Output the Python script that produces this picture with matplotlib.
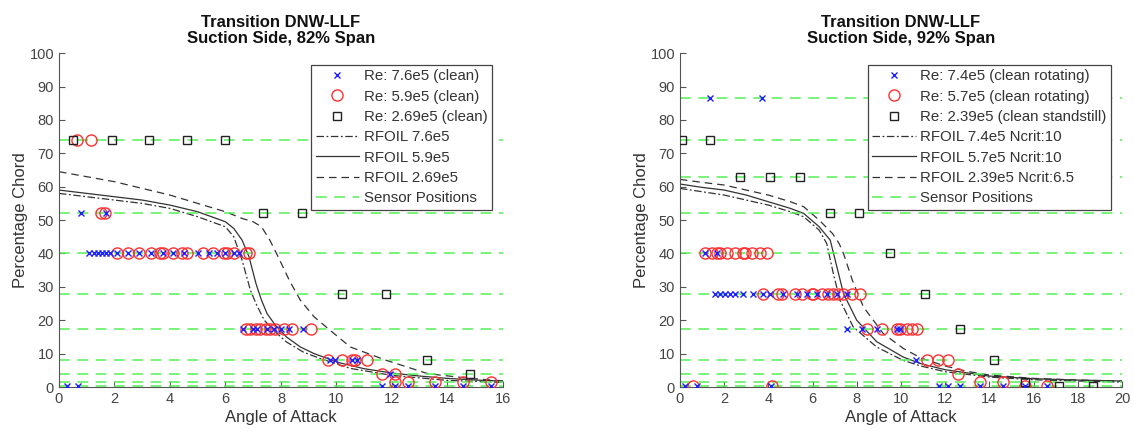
import numpy as np
import matplotlib
matplotlib.use('Agg')
import matplotlib.pyplot as plt

plt.rcParams['font.family'] = ['Liberation Sans', 'DejaVu Sans']

# ---------- left panel: 82% span ----------
sensors_82 = [74, 52, 40, 28, 17.5, 8, 4, 1.5, 0.3]

# Re 7.6e5 (blue x)
hi_x_82 = [0.3, 0.7, 0.79, 1.68,
           1.1, 1.25, 1.4, 1.55, 1.7, 1.85, 2.1, 2.5, 2.9, 3.3, 3.75, 4.1, 4.5, 5.0, 5.4, 5.7, 6.0, 6.3, 6.5,
           6.65, 7.0, 7.15, 7.5, 7.75, 8.0, 8.3, 8.8,
           9.77, 9.95, 10.55, 10.73, 11.93,
           11.63, 12.1, 12.59, 13.55, 14.57, 15.56]
hi_y_82 = [0.3, 0.3, 52, 52,
           40, 40, 40, 40, 40, 40, 40, 40, 40, 40, 40, 40, 40, 40, 40, 40, 40, 40, 40,
           17.5, 17.5, 17.5, 17.5, 17.5, 17.5, 17.5, 17.5,
           8, 8, 8, 8, 4,
           0.3, 0.3, 0.3, 0.3, 0.3, 0.3]

# Re 5.9e5 (red o)
mid_x_82 = [0.64, 1.15, 1.5, 1.66,
            2.1, 2.5, 2.9, 3.3, 3.65, 3.75, 4.1, 4.45, 4.6, 5.2, 5.55, 5.95, 6.05, 6.3, 6.75, 6.85,
            6.75, 6.9, 7.1, 7.25, 7.45, 7.6, 7.8, 8.1, 8.4, 9.1,
            9.7, 10.19, 10.55, 10.67, 11.09,
            11.63, 12.1,
            12.1, 12.59, 13.55, 14.57, 15.56]
mid_y_82 = [74, 74, 52, 52,
            40, 40, 40, 40, 40, 40, 40, 40, 40, 40, 40, 40, 40, 40, 40, 40,
            17.5, 17.5, 17.5, 17.5, 17.5, 17.5, 17.5, 17.5, 17.5, 17.5,
            8, 8, 8, 8, 8,
            4, 4,
            1.5, 1.5, 1.5, 1.5, 1.5]

# Re 2.69e5 (black squares)
lo_x_82 = [0.52, 1.9, 3.25, 4.6, 5.98, 7.34, 8.76, 10.2, 11.78, 13.25, 14.8]
lo_y_82 = [74, 74, 74, 74, 74, 52, 52, 28, 28, 8, 4]

# RFOIL curves
rf_hi_x_82 = [0, 1, 2, 3, 4, 5, 5.5, 6, 6.3, 6.6, 6.9, 7.1, 7.4, 7.8, 8.2, 8.8, 9.4, 10.5, 12, 14, 16]
rf_hi_y_82 = [58, 57, 56, 55, 53.5, 51, 49.5, 48, 45, 38, 29, 25, 20, 16.5, 13.5, 10.5, 8.6, 5.6, 3.5, 2, 1.4]
rf_mid_x_82 = [0, 1, 2, 3, 4, 5, 5.5, 6, 6.3, 6.6, 6.85, 7.1, 7.3, 7.5, 7.8, 8.2, 8.7, 9.2, 10.1, 11, 12, 13, 14, 15, 16]
rf_mid_y_82 = [59, 58, 57, 56, 54.5, 52.5, 51, 49.5, 47.5, 44, 39, 31, 26, 22, 18.5, 15, 12, 10, 7.3, 5.5, 4.2, 3.3, 2.6, 2.1, 1.8]
rf_lo_x_82 = [0, 1, 2, 3, 4, 5, 6, 6.6, 7.0, 7.3, 7.6, 7.9, 8.3, 8.7, 9.2, 9.7, 10.5, 11.8, 13.3, 14.7, 16]
rf_lo_y_82 = [64.5, 63, 61.5, 59.5, 57.5, 55, 52.5, 50.5, 49.5, 48, 44, 39, 32, 26, 21, 17.5, 12, 8, 4, 2.7, 1.8]

# ---------- right panel: 92% span ----------
sensors_92 = [86.5, 74, 63, 52, 40, 28, 17.5, 8, 4, 1.5, 0.3]

hi_x_92 = [1.36, 3.7, 1.13, 1.66,
           1.58, 1.81, 2.04, 2.26, 2.49, 2.87, 3.32, 3.77, 4.07, 4.67, 5.28, 5.73, 6.18, 6.64, 7.09, 7.54,
           7.54, 8.22, 8.9, 9.8, 9.95,
           10.7,
           0.23, 0.75, 4.1, 11.7, 12.14, 12.67, 13.57, 14.63, 15.6, 16.6]
hi_y_92 = [86.5, 86.5, 40, 40,
           28, 28, 28, 28, 28, 28, 28, 28, 28, 28, 28, 28, 28, 28, 28, 28,
           17.5, 17.5, 17.5, 17.5, 17.5,
           8,
           0.3, 0.3, 0.3, 0.3, 0.3, 0.3, 0.3, 0.3, 0.3, 0.3]

mid_x_92 = [1.13, 1.43, 1.66, 1.81, 2.11, 2.49, 2.86, 2.94, 3.24, 3.62, 3.92,
            3.77, 4.45, 4.6, 5.2, 5.51, 5.96, 6.03, 6.41, 6.71, 6.94, 7.16, 7.39, 7.77, 8.14,
            8.45, 9.12, 9.8, 9.95, 10.26, 10.5, 10.71,
            11.16, 11.69, 12.14,
            12.6,
            13.57, 14.63,
            0.6, 4.15, 15.6, 16.6]
mid_y_92 = [40, 40, 40, 40, 40, 40, 40, 40, 40, 40, 40,
            28, 28, 28, 28, 28, 28, 28, 28, 28, 28, 28, 28, 28, 28,
            17.5, 17.5, 17.5, 17.5, 17.5, 17.5, 17.5,
            8, 8, 8,
            4,
            1.5, 1.5,
            0.3, 0.3, 0.3, 0.3]

lo_x_92 = [0.08, 1.36, 2.71, 4.07, 5.43, 6.79, 8.1, 9.5, 11.08, 12.65, 14.2, 15.6, 17.15, 18.7]
lo_y_92 = [74, 74, 63, 63, 63, 52, 52, 40, 28, 17.5, 8, 1.5, 0.3, 0.3]

rf_hi_x_92 = [0, 1, 2, 3, 4, 5, 5.6, 6.3, 6.64, 6.94, 7.24, 7.84, 8.9, 10.1, 10.9, 12, 14, 16, 18, 20]
rf_hi_y_92 = [59.5, 58.5, 57.5, 56, 54.5, 52.5, 51, 47, 43, 34, 26, 18, 12, 8, 6.3, 4.6, 3, 2.2, 1.8, 1.5]
rf_mid_x_92 = [0, 1, 2, 3, 4, 5, 5.6, 6.3, 6.8, 7.1, 7.4, 8.0, 8.9, 10.1, 10.9, 12, 14, 16, 18, 20]
rf_mid_y_92 = [60.8, 59.8, 59, 57.5, 55.5, 53.5, 52, 48, 44, 36, 28, 20, 13.6, 9, 7, 5.2, 3.3, 2.5, 2.1, 1.8]
rf_lo_x_92 = [0, 1, 2, 3, 4, 5, 5.6, 6.3, 6.9, 7.2, 7.4, 7.8, 8.3, 9.2, 10.1, 10.9, 12, 13, 14, 16, 18, 20]
rf_lo_y_92 = [62.2, 61.3, 60.5, 59, 57.5, 55.5, 54, 50, 46, 43, 40, 32, 24, 16, 11.6, 8.7, 6.3, 4.7, 3.6, 2.6, 2.1, 1.8]

labels_82 = ['Re: 7.6e5 (clean)', 'Re: 5.9e5 (clean)', 'Re: 2.69e5 (clean)',
             'RFOIL 7.6e5', 'RFOIL 5.9e5', 'RFOIL 2.69e5', 'Sensor Positions']
labels_92 = ['Re: 7.4e5 (clean rotating)', 'Re: 5.7e5 (clean rotating)', 'Re: 2.39e5 (clean standstill)',
             'RFOIL 7.4e5 Ncrit:10', 'RFOIL 5.7e5 Ncrit:10', 'RFOIL 2.39e5 Ncrit:6.5', 'Sensor Positions']

green = '#55f055'
line_col = '#333333'
axis_col = '#555555'


def draw_panel(ax, sensors, hi, mid, lo, rf_hi, rf_mid, rf_lo, labels, xmax, title):
    h1, = ax.plot(hi[0], hi[1], 'x', color='#1f1fff', ms=5, mew=1.0, zorder=4)
    h2, = ax.plot(mid[0], mid[1], 'o', mfc='none', mec='#ff3030', ms=8, mew=1.0, zorder=3)
    h3, = ax.plot(lo[0], lo[1], 's', mfc='none', mec='#222222', ms=6, mew=1.0, zorder=3)
    h4, = ax.plot(rf_hi[0], rf_hi[1], color=line_col, lw=0.9, dashes=[6, 2, 1.5, 2])
    h5, = ax.plot(rf_mid[0], rf_mid[1], color=line_col, lw=0.9)
    h6, = ax.plot(rf_lo[0], rf_lo[1], color=line_col, lw=0.9, dashes=[6, 4])
    h7 = None
    for s in sensors:
        h, = ax.plot([0, xmax], [s, s], color=green, lw=1.1, dashes=[7, 5], zorder=2)
        if h7 is None:
            h7 = h
    ax.set_xlim(0, xmax)
    ax.set_ylim(0, 100)
    ax.set_xticks(np.arange(0, xmax + 1, 2))
    ax.set_yticks(np.arange(0, 101, 10))
    for side in ['top', 'right']:
        ax.spines[side].set_visible(False)
    for side in ['left', 'bottom']:
        ax.spines[side].set_color(axis_col)
    ax.tick_params(direction='in', length=4, colors=axis_col, labelsize=10.5,
                   labelcolor='#444444')
    ax.set_xlabel('Angle of Attack', fontsize=12, color='#333333', labelpad=3)
    ax.set_ylabel('Percentage Chord', fontsize=12, color='#333333', labelpad=1)
    ax.set_title(title, fontsize=12, fontweight='bold', color='#111111', pad=7, linespacing=1.15)
    leg = ax.legend([h1, h2, h3, h4, h5, h6, h7], labels, loc='upper right',
                    bbox_to_anchor=(0.975, 0.965), fontsize=10.8, handlelength=2.9,
                    handletextpad=0.3, borderpad=0.3, labelspacing=0.42, fancybox=False,
                    framealpha=1, edgecolor='#444444', borderaxespad=0)
    leg.get_frame().set_linewidth(0.9)
    for t in leg.get_texts():
        t.set_color('#333333')


fig = plt.figure(figsize=(11.34, 4.32), dpi=100)
ax1 = fig.add_axes([0.052, 0.104, 0.3915, 0.773])
ax2 = fig.add_axes([0.5996, 0.104, 0.3898, 0.773])

draw_panel(ax1, sensors_82, (hi_x_82, hi_y_82), (mid_x_82, mid_y_82), (lo_x_82, lo_y_82),
           (rf_hi_x_82, rf_hi_y_82), (rf_mid_x_82, rf_mid_y_82), (rf_lo_x_82, rf_lo_y_82),
           labels_82, 16, 'Transition DNW-LLF\nSuction Side, 82% Span')
draw_panel(ax2, sensors_92, (hi_x_92, hi_y_92), (mid_x_92, mid_y_92), (lo_x_92, lo_y_92),
           (rf_hi_x_92, rf_hi_y_92), (rf_mid_x_92, rf_mid_y_92), (rf_lo_x_92, rf_lo_y_92),
           labels_92, 20, 'Transition DNW-LLF\nSuction Side, 92% Span')

fig.savefig('out.png', dpi=100)
